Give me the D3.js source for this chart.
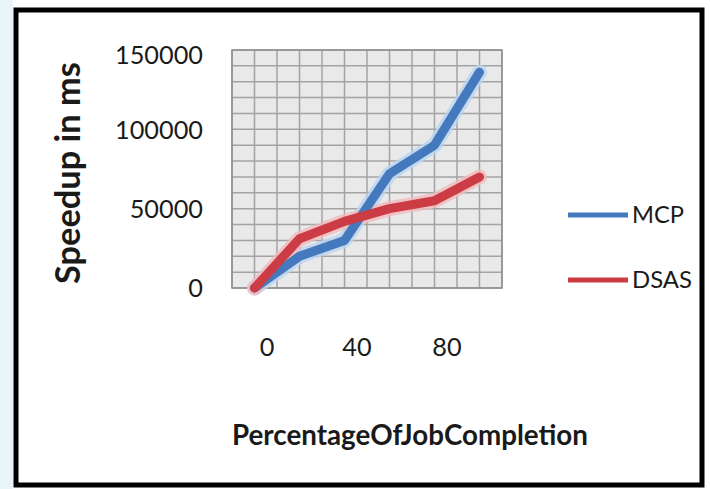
<!DOCTYPE html>
<html>
<head>
<meta charset="utf-8">
<script src="https://cdn.jsdelivr.net/npm/d3@7/dist/d3.min.js"></script>
<style>
  html, body { margin: 0; padding: 0; background: #fff; }
  svg { display: block; }
  text { font-family: Lato, "Open Sans", sans-serif; fill: #1a1a1a; }
</style>
</head>
<body>
<svg id="chart" width="710" height="489"></svg>
<script>
// ---- data ----
const categories = [0, 20, 40, 60, 80, 100];
const mcpValues  = [0, 20000, 30000, 72000, 90000, 136000];
const dsasValues = [0, 31000, 42000, 50000, 55000, 70000];
const xTickLabels = [0, 40, 80];
const yTickLabels = [0, 50000, 100000, 150000];
const seriesNames = ["MCP", "DSAS"];

const svg = d3.select("#chart");
const W = 710, H = 489;

// faint left tint + outer frame
svg.append("rect").attr("x", 0).attr("y", 0).attr("width", 13).attr("height", H).attr("fill", "#eaf4f8");
svg.append("rect").attr("x", 16).attr("y", 10).attr("width", 686).attr("height", 475)
  .attr("fill", "#fff").attr("stroke", "#000").attr("stroke-width", 5);

const plot = { left: 232, right: 502, top: 50, bottom: 288 };

const x = d3.scaleLinear().domain([-10, 110]).range([plot.left, plot.right]);
const y = d3.scaleLinear().domain([0, 150000]).range([plot.bottom, plot.top]);

// plot background
svg.append("rect")
  .attr("x", plot.left).attr("y", plot.top)
  .attr("width", plot.right - plot.left).attr("height", plot.bottom - plot.top)
  .attr("fill", "#e9e9e9");

// gridlines
const g = svg.append("g");
g.selectAll("line.v").data(d3.range(-10, 111, 10)).join("line")
  .attr("x1", d => x(d)).attr("x2", d => x(d))
  .attr("y1", plot.top).attr("y2", plot.bottom)
  .attr("stroke", "#a3a3a3").attr("stroke-width", 1.5);
g.selectAll("line.h").data(d3.range(0, 150001, 10000)).join("line")
  .attr("x1", plot.left).attr("x2", plot.right)
  .attr("y1", d => y(d)).attr("y2", d => y(d))
  .attr("stroke", "#a3a3a3").attr("stroke-width", 1.5);
svg.append("rect")
  .attr("x", plot.left).attr("y", plot.top)
  .attr("width", plot.right - plot.left).attr("height", plot.bottom - plot.top)
  .attr("fill", "none").attr("stroke", "#8f8f8f").attr("stroke-width", 1.5);

// lines
const line = d3.line().x((d, i) => x(categories[i])).y(d => y(d));
const series = [
  { name: seriesNames[0], values: mcpValues, color: "#4479bd", halo: "#b9d5f0" },
  { name: seriesNames[1], values: dsasValues, color: "#cc3c44", halo: "#f1b9bb" }
];
series.forEach(s => {
  svg.append("path").attr("d", line(s.values)).attr("fill", "none")
    .attr("stroke", s.halo).attr("stroke-width", 15)
    .attr("stroke-linejoin", "round").attr("stroke-linecap", "round").attr("opacity", 0.8);
});
series.forEach(s => {
  svg.append("path").attr("d", line(s.values)).attr("fill", "none")
    .attr("stroke", s.color).attr("stroke-width", 9)
    .attr("stroke-linejoin", "round").attr("stroke-linecap", "round");
});

// helper to fit a text to a target width
function fit(sel, target, base) {
  sel.style("font-size", base + "px");
  const w = sel.node().getComputedTextLength();
  sel.style("font-size", (base * target / w) + "px");
}

// y axis labels
const yAxis = d3.axisLeft(y).tickValues(yTickLabels).tickSize(0).tickPadding(0).tickFormat(d3.format("d"));
const yg = svg.append("g").attr("transform", "translate(203,0)").call(yAxis);
yg.select(".domain").remove();
yg.selectAll("text").style("font-size", "24px").attr("dy", "0.35em").style("fill", "#1a1a1a");
const probe = yg.selectAll("text").filter(d => d === 150000);
probe.style("font-size", "24px");
const fsY = 24 * 88 / probe.node().getComputedTextLength();
yg.selectAll("text").style("font-size", fsY + "px").style("font-family", "Lato, sans-serif");
yg.selectAll("text").filter(d => d === 150000).attr("transform", "translate(0,5)");

// x axis labels
const xAxis = d3.axisBottom(x).tickValues(xTickLabels).tickSize(0).tickPadding(0).tickFormat(d3.format("d"));
const xg = svg.append("g").attr("transform", "translate(12,347)").call(xAxis);
xg.select(".domain").remove();
xg.selectAll("text").attr("dy", "0.35em").style("font-size", fsY + "px")
  .style("font-family", "Lato, sans-serif").style("fill", "#1a1a1a");

// axis titles
const xt = svg.append("text").attr("x", 410).attr("y", 445)
  .attr("text-anchor", "middle").style("font-weight", "bold").text("PercentageOfJobCompletion");
fit(xt, 356, 24);

const yt = svg.append("text").attr("transform", "translate(80,173) rotate(-90)")
  .attr("text-anchor", "middle").style("font-weight", "bold").text("Speedup in ms");
fit(yt, 222, 24);

// legend
const legY = [215, 280];
series.forEach((s, i) => {
  svg.append("line").attr("x1", 568).attr("x2", 628).attr("y1", legY[i]).attr("y2", legY[i])
    .attr("stroke", s.color).attr("stroke-width", 5);
  const t = svg.append("text").attr("x", 632).attr("y", legY[i]).attr("dy", "0.35em").text(s.name);
  fit(t, i === 0 ? 52 : 60, 24);
});
</script>
</body>
</html>
